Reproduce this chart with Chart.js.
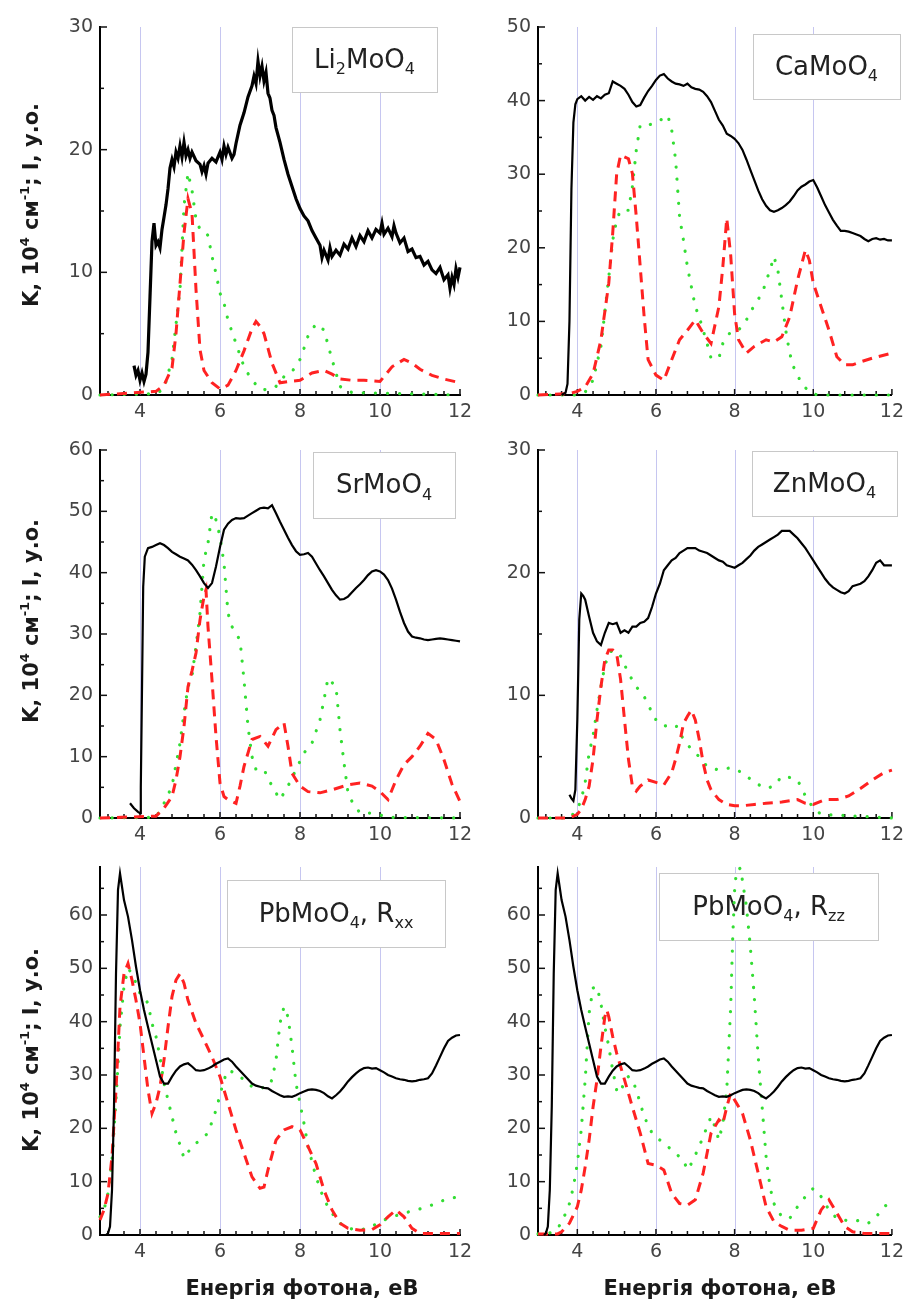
<!DOCTYPE html>
<html>
<head>
<meta charset="utf-8">
<script src="https://cdn.jsdelivr.net/npm/chart.js@4.4.0/dist/chart.umd.min.js"></script>
<style>
    body { margin: 0; background: #fff; }
    #wrap { position: relative; width: 910px; height: 1300px; }
    #wrap canvas { position: absolute; left: 0; top: 0; }
</style>
</head>
<body>
<div id="wrap"></div>
<script>
// ---- data: [photon energy (eV), value] ----

// Li2MoO4
const liBlack = [[3.85,2.4],[3.9,1.6],[3.95,2.0],[4.0,1.2],[4.05,1.8],[4.1,1.1],[4.15,1.7],[4.2,3.5],[4.25,8],[4.3,12.5],
    [4.35,14],[4.4,12.2],[4.45,12.5],[4.5,12.0],[4.55,13.5],[4.6,14.5],[4.65,15.5],[4.7,16.8],[4.75,18.5],[4.8,19.2],
    [4.85,18.6],[4.9,19.8],[4.95,19.3],[5.0,20.3],[5.05,19.4],[5.1,20.6],[5.15,19.5],[5.2,20.0],[5.25,19.3],[5.3,19.8],
    [5.4,19.1],[5.5,18.8],[5.55,18.2],[5.6,18.7],[5.65,18.0],[5.7,18.9],[5.8,19.3],[5.9,19.0],[6.0,19.8],[6.05,19.2],
    [6.1,20.3],[6.15,19.6],[6.2,20.2],[6.3,19.3],[6.35,19.6],[6.4,20.5],[6.5,22.0],[6.6,23.0],[6.7,24.3],[6.8,25.2],
    [6.85,26.0],[6.9,25.4],[6.95,27.2],[7.0,26.0],[7.05,26.8],[7.1,25.6],[7.15,26.3],[7.2,24.6],[7.25,24.2],[7.3,23.2],
    [7.35,22.8],[7.4,21.8],[7.5,20.6],[7.6,19.2],[7.7,18.0],[7.8,17.0],[7.9,16.0],[8.0,15.2],[8.1,14.6],[8.2,14.2],
    [8.3,13.4],[8.4,12.8],[8.5,12.2],[8.55,11.2],[8.6,11.8],[8.7,11.0],[8.75,12.0],[8.8,11.3],[8.9,11.8],[9.0,11.4],
    [9.1,12.3],[9.2,11.9],[9.3,12.8],[9.4,12.1],[9.5,13.0],[9.6,12.5],[9.7,13.4],[9.8,12.8],[9.9,13.5],[10.0,13.2],
    [10.05,14.0],[10.1,13.1],[10.2,13.6],[10.3,12.9],[10.35,13.8],[10.4,13.2],[10.5,12.4],[10.6,12.8],[10.7,11.7],[10.8,11.9],
    [10.9,11.2],[11.0,11.3],[11.1,10.6],[11.2,10.9],[11.3,10.2],[11.4,9.9],[11.5,10.4],[11.6,9.4],[11.7,9.8],[11.75,8.7],
    [11.8,9.6],[11.85,9.0],[11.9,10.3],[11.95,9.6],[12.0,10.4]];
const liRed = [[3,0],[4.4,0.3],[4.6,0.8],[4.8,2.2],[4.9,5],[5.0,9.1],[5.1,13.2],[5.2,16.0],[5.3,14.8],[5.4,8.6],
    [5.5,3.7],[5.6,2.0],[5.8,1.0],[6.0,0.5],[6.2,0.8],[6.4,2.0],[6.6,3.6],[6.8,5.4],[6.9,6.0],[7.0,5.6],
    [7.1,5.0],[7.2,3.8],[7.3,2.6],[7.5,1.0],[7.7,1.1],[8.0,1.2],[8.3,1.8],[8.6,2.0],[8.8,1.7],[9.0,1.3],
    [9.3,1.2],[9.6,1.2],[10.0,1.1],[10.3,2.3],[10.6,2.9],[10.8,2.6],[11.0,2.1],[11.3,1.6],[11.6,1.3],[12.0,1.0]];
const liGreen = [[3,0],[4.4,0.1],[4.6,0.5],[4.8,2.9],[5.0,8.6],[5.1,15.4],[5.2,18.1],[5.3,16.7],[5.4,14.3],[5.5,13.5],
    [5.6,13.4],[5.7,13.0],[5.8,11.3],[5.9,9.9],[6.0,8.3],[6.1,7.5],[6.2,6.1],[6.4,4.2],[6.6,2.3],[6.8,1.2],
    [7.0,0.5],[7.2,0.4],[7.4,0.7],[7.6,1.5],[7.8,1.9],[8.0,2.9],[8.1,3.8],[8.2,4.8],[8.4,5.8],[8.6,5.3],
    [8.8,2.9],[9.0,0.7],[9.3,0.2],[12,0]];

// CaMoO4
const caBlack = [[3.6,0],[3.7,0.3],[3.75,1.5],[3.8,10],[3.85,28],[3.9,37],[3.95,39.5],[4.0,40.2],[4.1,40.6],[4.2,40.0],
    [4.3,40.5],[4.4,40.1],[4.5,40.6],[4.6,40.3],[4.7,40.8],[4.8,41.0],[4.9,42.6],[5.0,42.3],[5.1,42.0],[5.2,41.6],
    [5.3,40.8],[5.4,39.8],[5.5,39.2],[5.6,39.4],[5.7,40.4],[5.8,41.3],[5.9,42.0],[6.0,42.8],[6.1,43.4],[6.2,43.6],
    [6.3,43.0],[6.4,42.6],[6.5,42.3],[6.6,42.2],[6.7,42.0],[6.8,42.3],[6.9,41.8],[7.0,41.6],[7.1,41.5],[7.2,41.2],
    [7.3,40.6],[7.4,39.8],[7.5,38.6],[7.6,37.4],[7.7,36.6],[7.8,35.5],[7.9,35.2],[8.0,34.8],[8.1,34.2],[8.2,33.3],
    [8.3,32.0],[8.4,30.6],[8.5,29.2],[8.6,27.8],[8.7,26.6],[8.8,25.7],[8.9,25.1],[9.0,24.9],[9.1,25.1],[9.2,25.4],
    [9.3,25.8],[9.4,26.3],[9.5,27.0],[9.6,27.8],[9.7,28.3],[9.8,28.6],[9.9,29.0],[10.0,29.2],[10.1,28.2],[10.2,27.0],
    [10.3,25.8],[10.4,24.8],[10.5,23.8],[10.6,23.0],[10.7,22.3],[10.8,22.3],[10.9,22.2],[11.0,22.0],[11.1,21.8],[11.2,21.6],
    [11.3,21.2],[11.4,20.9],[11.5,21.2],[11.6,21.3],[11.7,21.1],[11.8,21.2],[11.9,21.0],[12.0,21.0]];
const caRed = [[3.0,0],[3.8,0.2],[4.0,0.5],[4.2,1.1],[4.4,2.9],[4.6,7.5],[4.8,15.2],[4.9,22],[5.0,30],[5.1,32.6],
    [5.3,32.1],[5.4,30.1],[5.5,24.2],[5.6,17.4],[5.7,10.6],[5.8,4.8],[6.0,2.7],[6.2,2.0],[6.4,4.8],[6.6,7.5],
    [6.8,8.8],[7.0,10.2],[7.2,8.4],[7.4,7.0],[7.6,12],[7.7,17.4],[7.8,24],[7.9,19],[8.0,11],[8.1,7.5],
    [8.3,5.7],[8.5,6.6],[8.8,7.5],[9.0,7.2],[9.2,7.9],[9.4,10.6],[9.6,15.6],[9.8,19.7],[9.9,18.3],[10.0,15.2],
    [10.2,12],[10.4,8.8],[10.6,5.2],[10.8,4.1],[11.0,4.1],[11.2,4.5],[11.5,5.0],[12.0,5.7]];
const caGreen = [[3.0,0],[4.0,0],[4.2,0.4],[4.4,2],[4.6,6.6],[4.8,16],[4.9,21],[5.0,23.8],[5.1,25.1],[5.3,25.1],
    [5.4,28.3],[5.5,33.3],[5.6,36.7],[5.8,36.7],[6.0,36.9],[6.1,37.3],[6.3,38],[6.4,36],[6.5,31.9],[6.6,24.2],
    [6.7,21],[6.8,17.4],[7.0,12],[7.1,10.6],[7.2,8.8],[7.3,7],[7.4,5],[7.6,5],[7.7,7],[7.9,8.6],
    [8.1,8.8],[8.3,10.2],[8.5,12.2],[8.7,13.8],[8.9,17],[9.0,18.8],[9.1,17],[9.2,12.9],[9.3,8.8],[9.4,5.7],
    [9.5,3.8],[9.7,1.6],[9.9,0.4],[10.1,0],[12.0,0]];

// SrMoO4
const srBlack = [[3.75,2.4],[3.85,1.6],[3.95,1.0],[4.0,0.8],[4.02,5],[4.05,21],[4.08,37.7],[4.12,42.6],[4.2,44],[4.3,44.2],
    [4.4,44.5],[4.5,44.8],[4.6,44.5],[4.7,44],[4.8,43.4],[4.9,43],[5.0,42.6],[5.1,42.3],[5.2,42],[5.3,41.3],
    [5.4,40.4],[5.5,39.4],[5.6,38.3],[5.7,37.5],[5.8,38.3],[5.9,41],[6.0,44.2],[6.1,47],[6.2,48],[6.3,48.6],
    [6.4,48.9],[6.5,48.8],[6.6,48.9],[6.7,49.3],[6.8,49.7],[6.9,50.1],[7.0,50.5],[7.1,50.6],[7.2,50.5],[7.3,51],
    [7.4,49.7],[7.5,48.3],[7.6,47],[7.7,45.7],[7.8,44.5],[7.9,43.5],[8.0,42.9],[8.1,43],[8.2,43.2],[8.3,42.6],
    [8.4,41.5],[8.5,40.4],[8.6,39.4],[8.7,38.3],[8.8,37.2],[8.9,36.3],[9.0,35.6],[9.1,35.7],[9.2,36.1],[9.3,36.8],
    [9.4,37.5],[9.5,38.1],[9.6,38.8],[9.7,39.6],[9.8,40.2],[9.9,40.4],[10.0,40.2],[10.1,39.7],[10.2,38.8],[10.3,37.4],
    [10.4,35.6],[10.5,33.6],[10.6,31.8],[10.7,30.4],[10.8,29.6],[10.9,29.4],[11.0,29.3],[11.1,29.1],[11.2,29.0],[11.3,29.1],
    [11.4,29.2],[11.5,29.3],[11.6,29.2],[11.7,29.1],[11.8,29.0],[11.9,28.9],[12.0,28.8]];
const srRed = [[3.0,0],[4.4,0.3],[4.6,1.6],[4.8,3.5],[4.9,6.2],[5.0,10],[5.1,14.9],[5.2,21.4],[5.3,24],[5.4,26.9],
    [5.5,32.3],[5.6,36.1],[5.65,37.2],[5.7,31.2],[5.8,22.5],[5.9,13.3],[6.0,5.7],[6.1,3.5],[6.2,3],[6.4,2.4],
    [6.5,5.2],[6.6,8.4],[6.8,12.8],[7.0,13.3],[7.2,11.7],[7.4,14.4],[7.6,15.5],[7.7,11.7],[7.8,7.3],[8.0,5.2],
    [8.2,4.3],[8.5,4.1],[8.8,4.6],[9.2,5.4],[9.5,5.7],[9.8,5.2],[10.0,4.3],[10.2,3],[10.4,6.2],[10.6,8.7],
    [10.8,10],[11.0,11.7],[11.2,13.8],[11.4,12.8],[11.6,9.5],[11.8,5.5],[12.0,2.7]];
const srGreen = [[3.0,0],[4.4,0.1],[4.6,2.4],[4.8,5.2],[5.0,12.2],[5.1,17.1],[5.2,21.4],[5.3,23.1],[5.4,28],[5.5,33.4],
    [5.6,42.1],[5.7,44.8],[5.8,49.7],[5.9,48.6],[6.0,45.9],[6.1,41.5],[6.2,33.4],[6.3,31.2],[6.5,29],[6.6,22.5],
    [6.7,14.9],[6.8,10],[6.9,7.9],[7.1,7.9],[7.3,5.2],[7.5,3],[7.7,5.2],[7.9,7.9],[8.1,10.6],[8.3,12.2],
    [8.5,16],[8.6,19.3],[8.7,22.8],[8.9,21.4],[9.0,14.4],[9.1,9],[9.2,4.1],[9.3,2.7],[9.5,0.8],[9.8,0.8],
    [10.0,0.5],[10.2,0.1],[12.0,0]];

// ZnMoO4
const znBlack = [[3.8,1.9],[3.85,1.6],[3.9,1.4],[3.95,2.3],[4.0,8],[4.05,16.2],[4.1,18.3],[4.15,18.1],[4.2,17.8],[4.3,16.4],
    [4.4,15.1],[4.5,14.4],[4.6,14.1],[4.7,15.1],[4.8,15.9],[4.9,15.8],[5.0,15.9],[5.1,15.1],[5.2,15.3],[5.3,15.1],
    [5.4,15.6],[5.5,15.6],[5.6,15.9],[5.7,16.0],[5.8,16.3],[5.9,17.2],[6.0,18.3],[6.1,19.1],[6.2,20.2],[6.3,20.6],
    [6.4,21.0],[6.5,21.2],[6.6,21.6],[6.7,21.8],[6.8,22.0],[6.9,22.0],[7.0,22.0],[7.1,21.8],[7.2,21.7],[7.3,21.6],
    [7.4,21.4],[7.5,21.2],[7.6,21.0],[7.7,20.9],[7.8,20.6],[7.9,20.5],[8.0,20.4],[8.1,20.6],[8.2,20.8],[8.3,21.1],
    [8.4,21.4],[8.5,21.8],[8.6,22.1],[8.7,22.3],[8.8,22.5],[8.9,22.7],[9.0,22.9],[9.1,23.1],[9.2,23.4],[9.3,23.4],
    [9.4,23.4],[9.5,23.1],[9.6,22.8],[9.7,22.4],[9.8,22.0],[9.9,21.5],[10.0,21.0],[10.1,20.5],[10.2,20.0],[10.3,19.5],
    [10.4,19.1],[10.5,18.8],[10.6,18.6],[10.7,18.4],[10.8,18.3],[10.9,18.5],[11.0,18.9],[11.1,19.0],[11.2,19.1],[11.3,19.3],
    [11.4,19.7],[11.5,20.2],[11.6,20.8],[11.7,21.0],[11.8,20.6],[11.9,20.6],[12.0,20.6]];
const znRed = [[3.0,0],[3.8,0],[4.0,0.3],[4.1,0.7],[4.2,1.5],[4.3,2.6],[4.4,4.8],[4.5,8],[4.6,10.7],[4.7,12.9],
    [4.8,13.7],[4.9,13.7],[5.0,13.4],[5.1,11.3],[5.2,8],[5.3,4.8],[5.4,2.6],[5.5,2.2],[5.6,2.6],[5.8,3.1],
    [6.0,2.9],[6.2,2.7],[6.4,3.7],[6.5,4.8],[6.6,6.1],[6.7,7.7],[6.8,8.3],[6.9,8.8],[7.0,8],[7.1,6.4],
    [7.2,4.5],[7.3,3.1],[7.4,2.3],[7.6,1.5],[7.8,1.1],[8.0,1],[8.2,1],[8.5,1.1],[8.8,1.2],[9.2,1.3],
    [9.6,1.5],[9.8,1.2],[10.0,1.1],[10.3,1.5],[10.6,1.5],[10.9,1.8],[11.2,2.4],[11.5,3.1],[11.8,3.7],[12.0,3.9]];
const znGreen = [[3.0,0],[3.8,0],[4.0,0.7],[4.1,1.5],[4.2,2.9],[4.3,5.3],[4.4,6.7],[4.5,8.8],[4.6,10.7],[4.7,12.4],
    [4.8,13.4],[4.9,13.7],[5.1,13.2],[5.3,11.8],[5.5,10.7],[5.7,9.9],[5.9,8.6],[6.0,8],[6.2,7.5],[6.5,7.6],
    [6.7,6.4],[6.9,5.6],[7.1,5],[7.3,4.2],[7.6,3.9],[7.9,4.1],[8.2,3.7],[8.5,2.9],[8.8,2.4],[9.0,2.6],
    [9.2,3.4],[9.4,3.3],[9.6,3.1],[9.8,1.8],[10.0,0.8],[10.2,0.3],[12.0,0]];

// PbMoO4 (same measured curve in both bottom panels)
const pbBlack = [[3.15,0],[3.2,0.3],[3.25,1.6],[3.3,8.4],[3.35,24],[3.4,49],[3.45,64.7],[3.5,67.8],[3.55,65.3],[3.6,62.8],
    [3.7,59.7],[3.8,55.3],[3.9,50.3],[4.0,45.9],[4.1,42.2],[4.2,39],[4.3,35.9],[4.4,32.8],[4.5,29.7],[4.6,28.4],
    [4.7,28.4],[4.8,29.7],[4.9,30.8],[5.0,31.6],[5.1,32.0],[5.2,32.2],[5.3,31.6],[5.4,30.9],[5.5,30.8],[5.6,30.9],
    [5.7,31.2],[5.8,31.6],[5.9,32.1],[6.0,32.5],[6.1,32.9],[6.2,33.1],[6.3,32.5],[6.4,31.6],[6.5,30.8],[6.6,30.0],
    [6.7,29.2],[6.8,28.4],[6.9,28.0],[7.0,27.8],[7.1,27.6],[7.2,27.5],[7.3,27.0],[7.4,26.6],[7.5,26.2],[7.6,25.9],
    [7.7,26.0],[7.8,25.9],[7.9,26.2],[8.0,26.6],[8.1,26.9],[8.2,27.2],[8.3,27.3],[8.4,27.2],[8.5,27.0],[8.6,26.6],
    [8.7,26.0],[8.8,25.6],[8.9,26.2],[9.0,26.9],[9.1,27.8],[9.2,28.8],[9.3,29.6],[9.4,30.3],[9.5,30.9],[9.6,31.3],
    [9.7,31.4],[9.8,31.2],[9.9,31.3],[10.0,30.9],[10.1,30.5],[10.2,30.0],[10.3,29.7],[10.4,29.4],[10.5,29.2],[10.6,29.1],
    [10.7,28.9],[10.8,28.8],[10.9,28.9],[11.0,29.1],[11.1,29.2],[11.2,29.4],[11.3,30.3],[11.4,31.8],[11.5,33.4],[11.6,35.0],
    [11.7,36.4],[11.8,37.0],[11.9,37.4],[12.0,37.5]];
const pbxxRed = [[3.0,2.8],[3.1,4.7],[3.2,7.8],[3.3,14.7],[3.4,27.2],[3.5,42.8],[3.6,49],[3.7,50.9],[3.8,47.8],[3.9,44],
    [4.0,39.7],[4.1,33.4],[4.2,27.2],[4.3,22.8],[4.4,24.7],[4.5,27.8],[4.6,32.8],[4.7,39],[4.8,44.7],[4.9,47.8],
    [5.0,49],[5.1,47.2],[5.2,44],[5.4,39.7],[5.6,36.6],[5.8,33.4],[6.0,29.7],[6.2,24.7],[6.4,19.7],[6.6,15.3],
    [6.8,10.9],[7.0,8.75],[7.1,9],[7.2,12.2],[7.4,17.8],[7.6,19.7],[7.8,20.3],[8.0,19.7],[8.2,16.6],[8.4,13.4],
    [8.6,8.4],[8.8,4.7],[9.0,2.2],[9.2,1.25],[9.5,0.9],[9.8,1],[10.0,1.9],[10.2,3.4],[10.4,4.7],[10.6,3.4],
    [10.8,1.25],[11.0,0.3],[11.5,0.3],[12.0,0.3]];
const pbxxGreen = [[3.0,3.4],[3.1,4.7],[3.2,7.8],[3.3,14],[3.4,25.3],[3.5,39],[3.6,46.6],[3.7,50],[3.8,49],[3.9,47.2],
    [4.0,45.3],[4.1,44.7],[4.2,43.4],[4.3,39.7],[4.4,37.2],[4.5,33.4],[4.6,28.4],[4.7,25.3],[4.8,22.2],[4.9,19.1],
    [5.0,16.9],[5.1,14.4],[5.3,16.6],[5.5,17.8],[5.7,19.1],[5.9,23.4],[6.1,29.1],[6.2,30.9],[6.4,30.3],[6.6,29.1],
    [6.8,27.8],[7.0,27.5],[7.2,27.8],[7.3,29.1],[7.4,32.8],[7.5,39.7],[7.6,42.8],[7.7,40.9],[7.8,35.3],[7.9,28.4],
    [8.0,24.7],[8.1,20.9],[8.2,16.6],[8.4,10.9],[8.6,6.6],[8.8,4.1],[9.0,2.2],[9.2,1.25],[9.5,0.9],[9.8,1.6],
    [10.0,2.5],[10.3,3.4],[10.6,4.1],[10.9,4.7],[11.2,5.3],[11.5,6.3],[11.8,6.9],[12.0,7.3]];
const pbzzRed = [[3.0,0.2],[3.5,0.2],[3.6,0.6],[3.8,2.2],[4.0,5.3],[4.1,8.4],[4.2,12.8],[4.3,17.8],[4.4,24],[4.5,29.1],
    [4.6,35.3],[4.7,40.9],[4.75,42.2],[4.8,40.9],[4.9,37.2],[5.0,34.1],[5.1,31.6],[5.2,29.1],[5.4,24],[5.6,19.1],
    [5.8,13.4],[6.0,13.1],[6.2,12.2],[6.4,7.8],[6.6,5.9],[6.8,5.6],[7.0,6.6],[7.2,11.6],[7.4,19.1],[7.6,21.6],
    [7.7,20.9],[7.8,24],[7.9,26.6],[8.0,25.3],[8.2,22.8],[8.4,17.8],[8.6,11.6],[8.8,5.3],[9.0,2.5],[9.2,1.6],
    [9.4,0.9],[9.7,0.9],[10.0,1.25],[10.2,4.7],[10.4,6.6],[10.6,4.1],[10.8,1.6],[11.0,0.6],[11.3,0.3],[12.0,0.3]];
const pbzzGreen = [[3.0,0.2],[3.2,0.2],[3.4,0.6],[3.6,2.2],[3.8,5.9],[3.9,9],[4.0,13.4],[4.1,19.7],[4.2,29.1],[4.3,41.6],
    [4.4,46.3],[4.5,46.6],[4.6,43.4],[4.7,39],[4.8,35.3],[4.9,30.9],[5.0,27.2],[5.1,26.6],[5.2,29.1],[5.3,29.7],
    [5.4,29.1],[5.5,27.2],[5.7,22.2],[5.9,19.1],[6.1,17.8],[6.3,16.6],[6.5,15.3],[6.7,14],[6.8,12.2],[6.9,13.4],
    [7.1,16.6],[7.3,20.3],[7.4,22.2],[7.5,20.3],[7.6,17.8],[7.7,20.9],[7.8,27.2],[7.9,42.8],[7.95,55.3],[8.0,64.7],
    [8.05,68.4],[8.15,68.8],[8.3,61.6],[8.4,54],[8.5,44.7],[8.6,33.4],[8.7,24],[8.8,14.7],[8.9,9],[9.0,5.9],
    [9.2,3.4],[9.4,3.1],[9.6,5.3],[9.8,7.2],[10.0,8.75],[10.2,7.2],[10.4,4.7],[10.6,3.1],[10.8,2.8],[11.0,2.5],
    [11.2,2.8],[11.4,2.2],[11.6,3.4],[11.8,5.3],[12.0,6.3]];

// axis ticks
const xTickLabels = [4, 6, 8, 10, 12];
const gridLines = [4, 6, 8, 10];
const yTicks30 = [0, 10, 20, 30];
const yTicks50 = [0, 10, 20, 30, 40, 50];
const yTicks60 = [0, 10, 20, 30, 40, 50, 60];
const yTicksPb = [0, 10, 20, 30, 40, 50, 60];

const TICK_FONT = 'DejaVu Sans';
const TITLE_FONT = 'bold 21px "DejaVu Sans"';

// one entry per panel: plot area corner, y range and the label box
const panels = [
    { left: 100, top: 27,  yMax: 30, yTicks: yTicks30, black: liBlack, red: liRed, green: liGreen, blackWidth: 3.2,
      name: [['Li', 0], ['2', 1], ['MoO', 0], ['4', 1]], box: [292, 27, 145, 65], yTitle: 205 },
    { left: 538, top: 27,  yMax: 50, yTicks: yTicks50, black: caBlack, red: caRed, green: caGreen,
      name: [['CaMoO', 0], ['4', 1]], box: [753, 34, 147, 65] },
    { left: 100, top: 450, yMax: 60, yTicks: yTicks60, black: srBlack, red: srRed, green: srGreen,
      name: [['SrMoO', 0], ['4', 1]], box: [313, 452, 142, 66], yTitle: 621 },
    { left: 538, top: 450, yMax: 30, yTicks: yTicks30, black: znBlack, red: znRed, green: znGreen,
      name: [['ZnMoO', 0], ['4', 1]], box: [752, 451, 145, 65] },
    { left: 100, top: 867, yMax: 69, yTicks: yTicksPb, black: pbBlack, red: pbxxRed, green: pbxxGreen,
      name: [['PbMoO', 0], ['4', 1], [', R', 0], ['xx', 1]], box: [227, 880, 218, 67], yTitle: 1050, xTitle: 302 },
    { left: 538, top: 867, yMax: 69, yTicks: yTicksPb, black: pbBlack, red: pbzzRed, green: pbzzGreen,
      name: [['PbMoO', 0], ['4', 1], [', R', 0], ['xx'.replace('xx', 'zz'), 1]], box: [659, 873, 219, 67], xTitle: 720 }
];

const PLOT_W = 360, PLOT_H = 368, Y_AXIS_W = 60, X_AXIS_H = 40;

function toPoints(pairs) {
    return pairs.map(p => ({ x: p[0], y: p[1] }));
}

// draws text pieces, sub = 1 -> subscript, sup = 2 -> superscript
function drawRich(ctx, parts, x, y, big, small, weight, align) {
    const fontFor = p => (weight ? weight + ' ' : '') + (p[1] ? small : big) + 'px "DejaVu Sans"';
    let total = 0;
    parts.forEach(p => { ctx.font = fontFor(p); total += ctx.measureText(p[0]).width; });
    let cx = align === 'center' ? x - total / 2 : x;
    parts.forEach(p => {
        ctx.font = fontFor(p);
        let dy = 0;
        if (p[1] === 1) dy = big * 0.26;
        if (p[1] === 2) dy = -big * 0.42;
        ctx.fillText(p[0], cx, y + dy);
        cx += ctx.measureText(p[0]).width;
    });
}

const decor = {
    id: 'decor',
    beforeDatasetsDraw(chart, args, opts) {
        const { ctx, chartArea: a, scales: { x, y } } = chart;
        const cfg = opts.panel;
        ctx.save();

        // faint vertical grid lines
        ctx.strokeStyle = '#c6c6f0';
        ctx.lineWidth = 1;
        gridLines.forEach(e => {
            const px = Math.round(x.getPixelForValue(e)) + 0.5;
            ctx.beginPath();
            ctx.moveTo(px, a.top);
            ctx.lineTo(px, a.bottom);
            ctx.stroke();
        });

        // inward tick marks
        ctx.strokeStyle = '#111';
        ctx.lineWidth = 1.5;
        for (let k = 0; k <= 22; k++) {
            const e = 3.2 + 0.4 * k;
            const major = Math.abs(e - Math.round(e)) < 1e-6 && Math.round(e) % 2 === 0;
            const px = x.getPixelForValue(e);
            ctx.beginPath();
            ctx.moveTo(px, a.bottom);
            ctx.lineTo(px, a.bottom - (major ? 6 : 4));
            ctx.stroke();
        }
        for (let v = 5; v <= cfg.yMax; v += 5) {
            const py = y.getPixelForValue(v);
            ctx.beginPath();
            ctx.moveTo(a.left, py);
            ctx.lineTo(a.left + (v % 10 === 0 ? 7 : 4), py);
            ctx.stroke();
        }

        // compound name box
        const [bx, by, bw, bh] = cfg.box;
        ctx.fillStyle = '#fff';
        ctx.fillRect(bx, by, bw, bh);
        ctx.strokeStyle = '#c8c8c8';
        ctx.lineWidth = 1;
        ctx.strokeRect(bx + 0.5, by + 0.5, bw, bh);
        ctx.fillStyle = '#222';
        ctx.textBaseline = 'alphabetic';
        ctx.textAlign = 'left';
        drawRich(ctx, cfg.name, bx + bw / 2, by + bh / 2 + 8, 26, 16, '', 'center');

        // axis titles
        ctx.fillStyle = '#1a1a1a';
        if (cfg.yTitle) {
            ctx.save();
            ctx.translate(30, cfg.yTitle);
            ctx.rotate(-Math.PI / 2);
            drawRich(ctx, [['K, 10', 0], ['4', 2], [' см', 0], ['-1', 2], ['; I, у.о.', 0]], 0, 8, 21, 13, 'bold', 'center');
            ctx.restore();
        }
        if (cfg.xTitle) {
            ctx.font = TITLE_FONT;
            ctx.textAlign = 'center';
            ctx.fillText('Енергія фотона, еВ', cfg.xTitle, 1295);
        }
        ctx.restore();
    }
};

const wrap = document.getElementById('wrap');

panels.forEach(cfg => {
    const canvas = document.createElement('canvas');
    canvas.width = 910;
    canvas.height = 1300;
    wrap.appendChild(canvas);

    const right = cfg.left + PLOT_W;
    const bottom = cfg.top + PLOT_H;

    new Chart(canvas.getContext('2d'), {
        type: 'line',
        data: {
            datasets: [
                { data: toPoints(cfg.black), borderColor: '#000', borderWidth: cfg.blackWidth || 2.2 },
                { data: toPoints(cfg.red), borderColor: '#ff2222', borderWidth: 3, borderDash: [10, 7] },
                { data: toPoints(cfg.green), borderColor: '#33dd33', borderWidth: 3.2,
                  borderDash: [0.1, 12], borderCapStyle: 'round' }
            ]
        },
        options: {
            responsive: false,
            animation: false,
            events: [],
            layout: {
                padding: { left: cfg.left - Y_AXIS_W, top: cfg.top, right: 910 - right, bottom: 1300 - bottom - X_AXIS_H }
            },
            elements: {
                point: { radius: 0 },
                line: { tension: 0, fill: false }
            },
            datasets: { line: { clip: false } },
            plugins: {
                legend: { display: false },
                tooltip: { enabled: false },
                decor: { panel: cfg }
            },
            scales: {
                x: {
                    type: 'linear',
                    min: 3,
                    max: 12,
                    afterBuildTicks: s => { s.ticks = xTickLabels.map(v => ({ value: v })); },
                    afterFit: s => { s.height = X_AXIS_H; },
                    grid: { display: false, drawTicks: false },
                    border: { display: true, color: '#000', width: 2 },
                    ticks: { padding: 6, color: '#444', font: { family: TICK_FONT, size: 19 }, maxRotation: 0, autoSkip: false }
                },
                y: {
                    min: 0,
                    max: cfg.yMax,
                    afterBuildTicks: s => { s.ticks = cfg.yTicks.map(v => ({ value: v })); },
                    afterFit: s => { s.width = Y_AXIS_W; },
                    grid: { display: false, drawTicks: false },
                    border: { display: true, color: '#000', width: 2 },
                    ticks: { padding: 7, color: '#444', font: { family: TICK_FONT, size: 19 } }
                }
            }
        },
        plugins: [decor]
    });
});
</script>
</body>
</html>
